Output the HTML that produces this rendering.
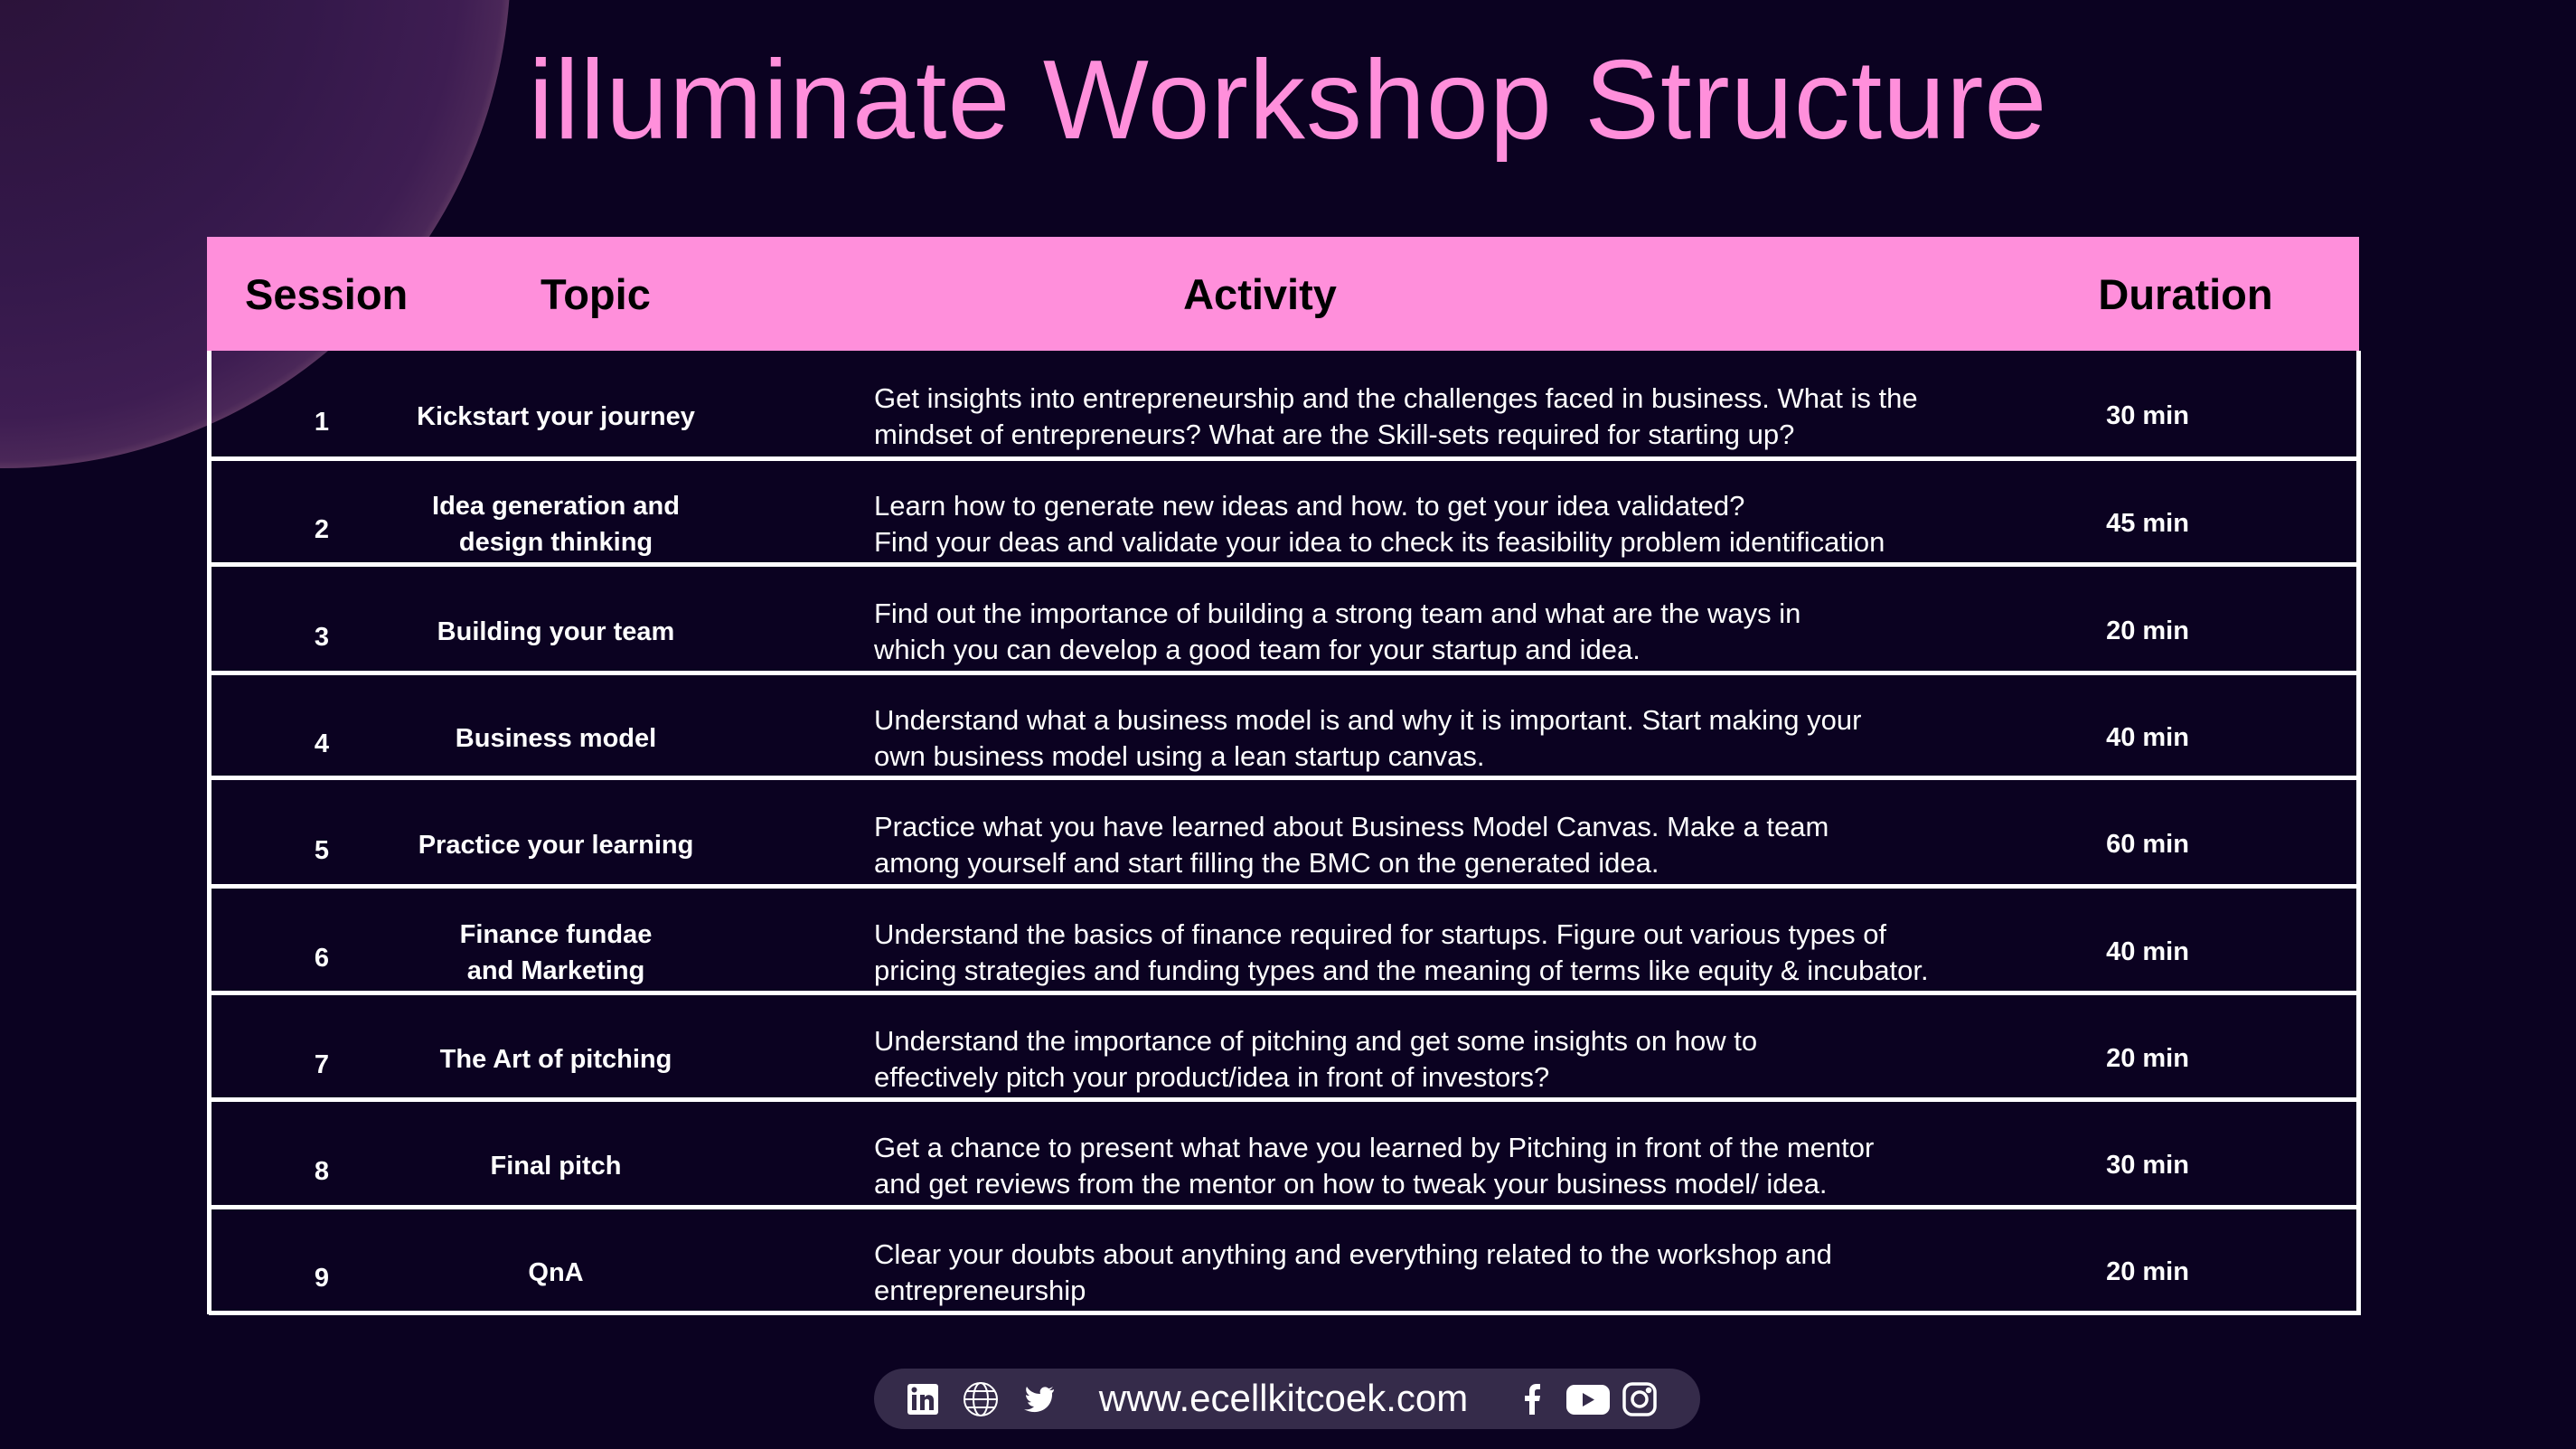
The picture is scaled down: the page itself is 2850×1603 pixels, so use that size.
<!DOCTYPE html>
<html><head><meta charset="utf-8">
<style>
html,body{margin:0;padding:0}
body{width:2850px;height:1603px;background:#0b0221;position:relative;overflow:hidden;font-family:"Liberation Sans",sans-serif;color:#fff}
.abs{position:absolute}
.hdr{position:absolute;top:298px;font-weight:bold;font-size:47px;color:#000;line-height:56px}
.num,.topic,.dur{position:absolute;font-weight:bold;font-size:29px;text-align:center}
.act{position:absolute;font-size:31px;line-height:40px;white-space:nowrap}
.sep{position:absolute;left:231px;width:2381px;height:5px;background:#fff}
</style></head>
<body>
<svg class="abs" style="left:0;top:0" width="700" height="600">
 <defs>
  <radialGradient id="pg" cx="4" cy="-43" r="561" gradientUnits="userSpaceOnUse">
   <stop offset="0" stop-color="#2a1238"/>
   <stop offset="0.6" stop-color="#34184a"/>
   <stop offset="0.9" stop-color="#3e1d52"/>
   <stop offset="0.985" stop-color="#4a2758"/>
   <stop offset="1" stop-color="#5a3560"/>
  </radialGradient>
  <linearGradient id="fade" x1="0" y1="0" x2="0" y2="1">
   <stop offset="0" stop-color="#0b0221" stop-opacity="0"/>
   <stop offset="1" stop-color="#0b0221" stop-opacity="0.25"/>
  </linearGradient>
 </defs>
 <circle cx="4" cy="-43" r="561" fill="url(#pg)"/>
</svg>
<div class="abs" style="left:0;width:2850px;top:36px;text-align:center;font-size:124px;color:#ff8fdb;line-height:150px;letter-spacing:1px">illuminate Workshop Structure</div>

<div class="abs" style="left:229px;top:262px;width:2381px;height:126px;background:#ff8fdb"></div>
<div class="hdr" style="left:271px">Session</div>
<div class="hdr" style="left:598px">Topic</div>
<div class="hdr" style="left:1294px;width:200px;text-align:center">Activity</div>
<div class="hdr" style="left:2318px;width:200px;text-align:center">Duration</div>

<div class="abs" style="left:229px;top:388px;width:5px;height:1066px;background:#fff"></div>
<div class="abs" style="left:2607px;top:388px;width:5px;height:1066px;background:#fff"></div>

<div id="rows"></div>

<div class="abs" style="left:967px;top:1514px;width:914px;height:67px;border-radius:34px;background:#352b4a"></div>
<svg class="abs" style="left:1000px;top:1525px" width="860" height="46">
 <g><rect x="4" y="6" width="34" height="34" rx="3" fill="#fff"/><rect x="9" y="18" width="5" height="17" fill="#352b4a"/><circle cx="11.5" cy="12.5" r="3" fill="#352b4a"/><path d="M18 18h5v3c2-4 10-4 10 3v11h-5v-10c0-3-5-3-5 0v10h-5z" fill="#352b4a"/></g>
 <g fill="none" stroke="#fff" stroke-width="2"><circle cx="85" cy="23" r="18"/><ellipse cx="85" cy="23" rx="8" ry="18"/><line x1="67" y1="23" x2="103" y2="23"/><line x1="70" y1="14" x2="100" y2="14"/><line x1="70" y1="32" x2="100" y2="32"/></g>
 <path d="M166 12c-2 1-3 1-5 1 2-1 3-3 4-4-2 1-3 2-5 2-4-4-11 0-9 6-7 0-12-3-15-8-2 4 0 8 3 10-1 0-3 0-4-1 0 4 3 7 6 8-1 0-3 1-4 0 1 3 4 5 7 5-3 3-7 4-11 3 14 8 32 0 31-18 1-1 2-2 2-4z" fill="#fff"/>
 <g><path d="M692 40v-15h-5v-6h5v-5c0-5 3-8 8-8h4v6h-3c-2 0-3 1-3 3v4h6l-1 6h-5v15z" fill="#fff"/></g>
 <g><rect x="733" y="7" width="48" height="33" rx="9" fill="#fff"/><path d="M751 16l13 7.5-13 7.5z" fill="#352b4a"/></g>
 <g fill="none" stroke="#fff" stroke-width="3.5"><rect x="797" y="6" width="34" height="34" rx="9"/><circle cx="814" cy="23" r="8"/><circle cx="824" cy="13" r="1.5" fill="#fff"/></g>
</svg>
<div class="abs" style="left:1200px;top:1522px;width:440px;text-align:center;font-size:42px;line-height:50px;color:#fff">www.ecellkitcoek.com</div>

<script>
const sessions=["1","2","3","4","5","6","7","8","9"];
const topics=["Kickstart your journey","Idea generation and<br>design thinking","Building your team","Business model","Practice your learning","Finance fundae<br>and Marketing","The Art of pitching","Final pitch","QnA"];
const activities=[
"Get insights into entrepreneurship and the challenges faced in business. What is the<br>mindset of entrepreneurs? What are the Skill-sets required for starting up?",
"Learn how to generate new ideas and how. to get your idea validated?<br>Find your deas and validate your idea to check its feasibility problem identification",
"Find out the importance of building a strong team and what are the ways in<br>which you can develop a good team for your startup and idea.",
"Understand what a business model is and why it is important. Start making your<br>own business model using a lean startup canvas.",
"Practice what you have learned about Business Model Canvas. Make a team<br>among yourself and start filling the BMC on the generated idea.",
"Understand the basics of finance required for startups. Figure out various types of<br>pricing strategies and funding types and the meaning of terms like equity &amp; incubator.",
"Understand the importance of pitching and get some insights on how to<br>effectively pitch your product/idea in front of investors?",
"Get a chance to present what have you learned by Pitching in front of the mentor<br>and get reviews from the mentor on how to tweak your business model/ idea.",
"Clear your doubts about anything and everything related to the workshop and<br>entrepreneurship"];
const durations=["30 min","45 min","20 min","40 min","60 min","40 min","20 min","30 min","20 min"];
const bounds=[388,505,622,742,858,978,1096,1214,1333,1450];
const host=document.getElementById('rows');
for(let i=0;i<sessions.length;i++){
  const top=(i===0?bounds[0]:bounds[i]+5), bot=bounds[i+1], h=bot-top, mid=top+h/2;
  const s=document.createElement('div');s.className='sep';
  
  
  s.style.top=bounds[i+1]+'px';host.appendChild(s);
  const n=document.createElement('div');n.className='num';
  
  
  n.style.left='306px';n.style.width='100px';n.style.top=(mid+24-20)+'px';n.textContent=sessions[i];host.appendChild(n);
  const t=document.createElement('div');t.className='topic';
  
  
  const lines=topics[i].split('<br>').length;
  t.style.left='415px';t.style.width='400px';t.style.lineHeight='40px';
  t.style.top=(mid+14-lines*20)+'px';t.innerHTML=topics[i];host.appendChild(t);
  const a=document.createElement('div');a.className='act';
  
  
  a.style.left='967px';a.style.top=(mid+14-40)+'px';a.innerHTML=activities[i];host.appendChild(a);
  const d=document.createElement('div');d.className='dur';
  
  
  d.style.left='2276px';d.style.width='200px';d.style.top=(mid+14-17)+'px';d.textContent=durations[i];host.appendChild(d);
}
</script>
</body></html>
